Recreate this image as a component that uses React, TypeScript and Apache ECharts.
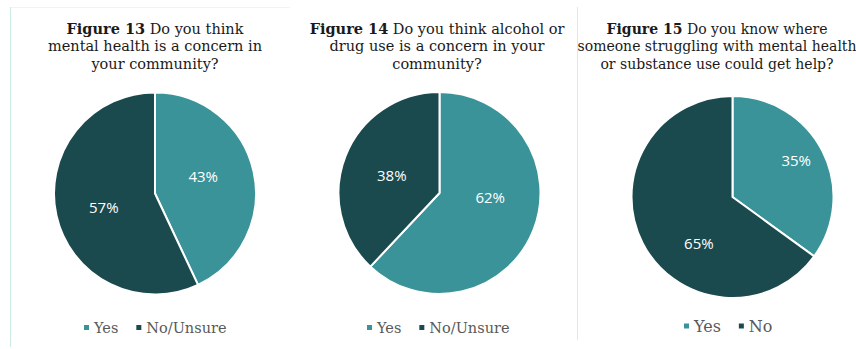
import React, { useEffect, useRef } from "react";
import * as echarts from "echarts";

const fig13Names = ["Yes", "No/Unsure"];
const fig13Values = [43, 57];
const fig14Names = ["Yes", "No/Unsure"];
const fig14Values = [62, 38];
const fig15Names = ["Yes", "No"];
const fig15Values = [35, 65];

const titles = [
  "{b|Figure 13} Do you think\nmental health is a concern in\nyour community?",
  "{b|Figure 14} Do you think alcohol or\ndrug use is a concern in your\ncommunity?",
  "{b|Figure 15} Do you know where\nsomeone struggling with mental health\nor substance use could get help?",
];

// label nudges (style only), per pie, per slice: [dx, dy]
const labelNudges = [
  [[-4, -6], [1, 2]],
  [[1, -16], [2, 2]],
  [[16, -13], [14, 22]],
];

const YES = "#3a9399";
const NO = "#1b4a4e";
const SERIF = "DejaVu Serif";

export default function App() {
  const ref = useRef<HTMLDivElement>(null);
  useEffect(() => {
    if (!ref.current) return;
    const chart = echarts.init(ref.current, undefined, { renderer: "svg" });
    const centers = [
      [155, 193.5],
      [439.5, 193],
      [732.5, 197],
    ];
    const titleCenters = [155, 437, 717];
    const titleSizes = [14.5, 14.5, 14];
    const sets = [
      [fig13Names, fig13Values],
      [fig14Names, fig14Values],
      [fig15Names, fig15Values],
    ] as [string[], number[]][];
    const series = sets.map(([names, vals], i) => ({
      type: "pie",
      center: centers[i],
      radius: 101,
      startAngle: 90,
      clockwise: true,
      data: names.map((n, j) => ({
        name: n,
        value: vals[j],
        itemStyle: { color: j === 0 ? YES : NO },
        label: { offset: labelNudges[i][j] },
      })),
      itemStyle: { borderColor: "#ffffff", borderWidth: 2 },
      label: {
        show: true,
        position: "inside",
        formatter: "{c}%",
        color: "#ffffff",
        fontFamily: "Open Sans",
        fontSize: 15,
      },
      labelLine: { show: false },
      emphasis: { disabled: true },
      silent: true,
    }));
    const titleOpts = titles.map((t, i) => ({
      text: t,
      left: titleCenters[i] - 5,
      top: 15,
      textAlign: "center",
      textStyle: {
        fontFamily: SERIF,
        fontSize: titleSizes[i],
        fontWeight: "normal",
        color: "#1a1a1a",
        lineHeight: 17.5,
        rich: {
          b: { fontFamily: SERIF, fontSize: titleSizes[i], fontWeight: "bold", color: "#1a1a1a", lineHeight: 17.5 },
        },
      },
    }));
    const legendBase = {
      icon: "rect",
      itemWidth: 7,
      itemHeight: 7,
      itemGap: 16,
      selectedMode: false,
    };
    const legendText = (size: number) => ({
      fontFamily: SERIF,
      fontSize: size,
      color: "#595959",
      padding: [0, 0, 0, -1],
    });
    chart.setOption({
      animation: false,
      backgroundColor: "#ffffff",
      title: titleOpts,
      legend: [
        { ...legendBase, data: fig13Names, left: 77, top: 315, textStyle: legendText(14.5) },
        { ...legendBase, data: fig14Names, left: 360, top: 315, textStyle: legendText(14.5) },
        { ...legendBase, data: fig15Names, left: 677, top: 313, textStyle: legendText(16) },
      ],
      graphic: [
        { type: "line", shape: { x1: 10.5, y1: 7, x2: 10.5, y2: 347 }, style: { stroke: "#cdeae2", lineWidth: 1 } },
        { type: "line", shape: { x1: 11, y1: 7.5, x2: 290, y2: 7.5 }, style: { stroke: "#f3f3f3", lineWidth: 1 } },
        { type: "line", shape: { x1: 577.5, y1: 7, x2: 577.5, y2: 340 }, style: { stroke: "#d9e9f1", lineWidth: 1 } },
      ],
      series,
    });
    return () => chart.dispose();
  }, []);
  return (
    <div
      ref={ref}
      style={{ position: "fixed", left: 0, top: 0, width: 856, height: 349 }}
    />
  );
}
